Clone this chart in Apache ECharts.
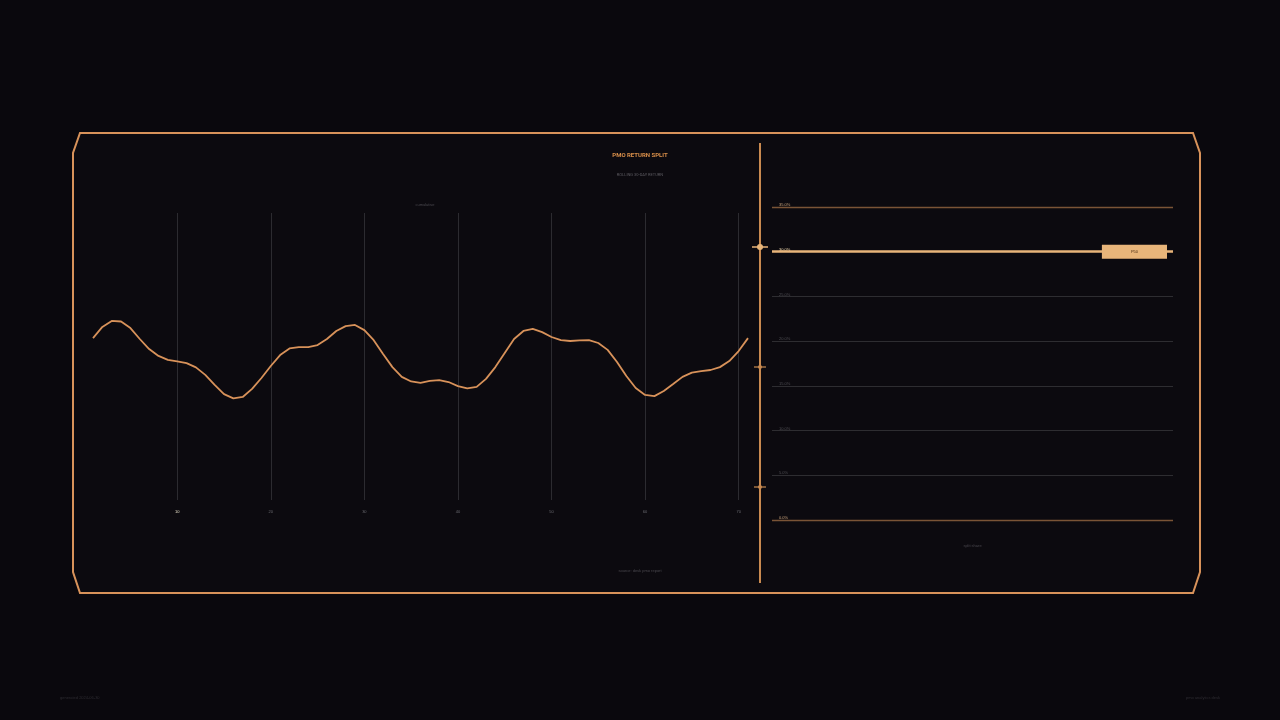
<!DOCTYPE html>
<html>
<head>
<meta charset="utf-8">
<script src="https://cdn.jsdelivr.net/npm/echarts@6/dist/echarts.min.js"></script>
<style>
  html, body { margin: 0; padding: 0; background: #0a080d; }
  #main { width: 1280px; height: 720px; }
</style>
</head>
<body>
<div id="main"></div>
<script>
var myChart = echarts.init(document.getElementById('main'));

// 71 periods, label shown every 10th
var periods = [];
for (var i = 1; i <= 71; i++) { periods.push(String(i)); }

// return path
var returnValues = [
  5.64, 6.03, 6.24, 6.22, 5.99, 5.61, 5.26, 5.02, 4.88, 4.83,
  4.77, 4.62, 4.36, 4.01, 3.69, 3.54, 3.59, 3.87, 4.25, 4.67,
  5.05, 5.28, 5.33, 5.33, 5.40, 5.61, 5.89, 6.06, 6.10, 5.92,
  5.57, 5.09, 4.63, 4.29, 4.13, 4.08, 4.15, 4.18, 4.11, 3.97,
  3.89, 3.94, 4.22, 4.63, 5.12, 5.61, 5.89, 5.96, 5.85, 5.68,
  5.57, 5.54, 5.56, 5.57, 5.47, 5.23, 4.81, 4.32, 3.90, 3.66,
  3.62, 3.80, 4.04, 4.29, 4.44, 4.49, 4.53, 4.63, 4.84, 5.19,
  5.64
];

// right panel: split scale and the highlighted level
var splitMin = 0;
var splitMax = 35;
var splitLevel = 30;
var splitTag = 'P50';

var ORANGE = '#d8925a';
var PEACH = '#e8b57a';

function showEvery10(index) { return index % 10 === 9; }

function near(a, b) { return Math.abs(Number(a) - b) < 0.01; }

option = {
    backgroundColor: '#0a080d',
    title: [
        {
            text: 'PMO RETURN SPLIT',
            left: 'center',
            top: 147,
            textStyle: { color: '#d98f4a', fontSize: 6, fontWeight: 'bold', fontFamily: 'Roboto' }
        },
        {
            text: 'ROLLING 30-DAY RETURN',
            left: 'center',
            top: 168,
            textStyle: { color: '#5c5a60', fontSize: 4, fontWeight: 'normal', fontFamily: 'Roboto' }
        },
        {
            text: 'cumulative',
            left: 420,
            top: 198,
            textAlign: 'center',
            textStyle: { color: '#4a484e', fontSize: 4, fontWeight: 'normal' }
        },
        {
            text: 'source: desk pmo report',
            left: 'center',
            top: 564,
            textStyle: { color: '#4a484e', fontSize: 4, fontWeight: 'normal' }
        },
        {
            text: 'generated 2024-06-30',
            left: 55,
            top: 691,
            textStyle: { color: '#2e2c32', fontSize: 4, fontWeight: 'normal' }
        },
        {
            text: 'pmo analytics desk',
            right: 55,
            top: 691,
            textStyle: { color: '#2e2c32', fontSize: 4, fontWeight: 'normal' }
        }
    ],
    grid: [
        { left: 93, right: 532, top: 213, bottom: 220 },
        { left: 772, right: 107, top: 207, bottom: 200 }
    ],
    xAxis: [
        {
            type: 'category',
            gridIndex: 0,
            data: periods,
            boundaryGap: false,
            axisLine: { show: false },
            axisTick: { show: false },
            axisLabel: {
                interval: showEvery10,
                margin: 10,
                fontSize: 4,
                color: function (value, index) {
                    return value === '10' ? '#e8e0c8' : '#6a6a70';
                }
            },
            splitLine: {
                show: true,
                interval: showEvery10,
                lineStyle: { color: '#2c2b30', width: 1 }
            }
        },
        {
            type: 'value',
            gridIndex: 1,
            min: 0,
            max: 1,
            name: 'split share',
            nameLocation: 'middle',
            nameGap: 24,
            nameTextStyle: { color: '#4a484e', fontSize: 4 },
            axisLine: { show: false },
            axisTick: { show: false },
            axisLabel: { show: false },
            splitLine: { show: false }
        }
    ],
    yAxis: [
        {
            type: 'value',
            gridIndex: 0,
            min: 0,
            max: 10,
            show: false,
            splitLine: { show: false }
        },
        {
            type: 'value',
            gridIndex: 1,
            min: splitMin,
            max: splitMax,
            interval: 5,
            axisLine: { show: false },
            axisTick: { show: false },
            axisLabel: {
                inside: true,
                margin: 7,
                verticalAlign: 'bottom',
                fontSize: 4,
                formatter: function (v) { return Number(v).toFixed(1) + '%'; },
                color: function (value) {
                    if (near(value, splitLevel)) return '#f3dcb0';
                    if (near(value, splitMin) || near(value, splitMax)) return '#c8a27a';
                    return '#4e4d52';
                }
            },
            splitLine: {
                show: true,
                showMinLine: false,
                showMaxLine: false,
                lineStyle: { color: '#2e2d31', width: 1 }
            }
        }
    ],
    series: [
        {
            name: 'return',
            type: 'line',
            xAxisIndex: 0,
            yAxisIndex: 0,
            data: returnValues,
            symbol: 'none',
            smooth: false,
            lineStyle: { color: ORANGE, width: 1.8 }
        },
        {
            name: 'bounds',
            type: 'line',
            xAxisIndex: 1,
            yAxisIndex: 1,
            clip: false,
            data: [],
            markLine: {
                silent: true,
                symbol: 'none',
                lineStyle: { color: '#7a5436', width: 1.3, type: 'solid' },
                label: { show: false },
                data: [{ yAxis: splitMin }, { yAxis: splitMax }]
            }
        },
        {
            name: 'split',
            type: 'line',
            xAxisIndex: 1,
            yAxisIndex: 1,
            data: [],
            markLine: {
                silent: true,
                symbol: 'none',
                lineStyle: { color: PEACH, width: 2.5, type: 'solid' },
                label: {
                    show: true,
                    position: 'insideEnd',
                    distance: 6,
                    formatter: splitTag,
                    backgroundColor: PEACH,
                    color: '#4a2c12',
                    fontSize: 4,
                    padding: [5, 29]
                },
                data: [{ yAxis: splitLevel }]
            }
        }
    ],
    graphic: [
        {
            type: 'polygon',
            z: -10,
            shape: {
                points: [[80, 133], [1193, 133], [1200, 153], [1200, 572], [1193, 593], [80, 593], [73, 572], [73, 153]]
            },
            style: { fill: '#0c0a0f', stroke: ORANGE, lineWidth: 2 }
        },
        {
            type: 'line',
            z: 100,
            shape: { x1: 760, y1: 143, x2: 760, y2: 583 },
            style: { stroke: '#c98a50', lineWidth: 2 }
        },
        { type: 'line', z: 100, shape: { x1: 752, y1: 247, x2: 768, y2: 247 }, style: { stroke: PEACH, lineWidth: 1.5 } },
        { type: 'circle', z: 101, shape: { cx: 760, cy: 247, r: 3 }, style: { fill: PEACH } },
        { type: 'line', z: 100, shape: { x1: 754, y1: 367, x2: 766, y2: 367 }, style: { stroke: '#c98a50', lineWidth: 1.2 } },
        { type: 'circle', z: 101, shape: { cx: 760, cy: 367, r: 2 }, style: { fill: '#c98a50' } },
        { type: 'line', z: 100, shape: { x1: 754, y1: 487, x2: 766, y2: 487 }, style: { stroke: '#c98a50', lineWidth: 1.2 } },
        { type: 'circle', z: 101, shape: { cx: 760, cy: 487, r: 2 }, style: { fill: '#c98a50' } }
    ]
};

myChart.setOption(option);
</script>
</body>
</html>
